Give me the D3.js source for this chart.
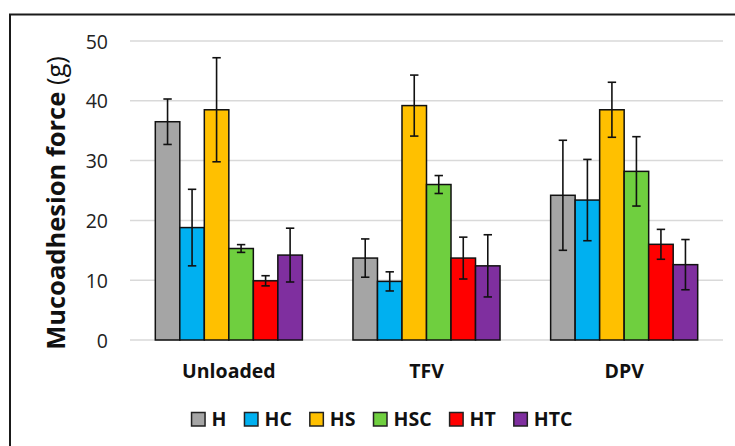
<!DOCTYPE html>
<html>
<head>
<meta charset="utf-8">
<script src="https://cdn.jsdelivr.net/npm/d3@7"></script>
<style>
  html, body { margin: 0; padding: 0; background: #fff; }
  svg { display: block; }
</style>
</head>
<body>
<svg id="chart" width="735" height="446"></svg>
<script>
const categories = ["Unloaded", "TFV", "DPV"];
const series = ["H", "HC", "HS", "HSC", "HT", "HTC"];
const colors = ["#A5A5A5", "#00B0F0", "#FFC000", "#6FCF3F", "#FF0000", "#7F2F9F"];
const valH   = [36.5, 13.7, 24.2];
const valHC  = [18.8, 9.8, 23.4];
const valHS  = [38.5, 39.2, 38.5];
const valHSC = [15.3, 26.0, 28.2];
const valHT  = [9.9, 13.7, 16.0];
const valHTC = [14.2, 12.4, 12.6];
const errH   = [3.8, 3.2, 9.2];
const errHC  = [6.4, 1.6, 6.8];
const errHS  = [8.7, 5.1, 4.6];
const errHSC = [0.65, 1.5, 5.8];
const errHT  = [0.85, 3.5, 2.5];
const errHTC = [4.5, 5.2, 4.2];
const yTicks = [0, 10, 20, 30, 40, 50];
const yTitle = "Mucoadhesion force";
const yUnit = "(g)";

const values = [valH, valHC, valHS, valHSC, valHT, valHTC];
const errors = [errH, errHC, errHS, errHSC, errHT, errHTC];

const svg = d3.select("#chart");
const plot = { left: 130, right: 723, top: 41, bottom: 340 };

// frame (chart area border, cropped at right/bottom)
svg.append("path")
  .attr("d", `M10,460 L10,14.5 L760,14.5`)
  .attr("fill", "none").attr("stroke", "#1a1a1a").attr("stroke-width", 2);

const x0 = d3.scaleBand().domain(categories).range([plot.left, plot.right])
  .paddingInner(0.256).paddingOuter(0.128);
const x1 = d3.scaleBand().domain(series).range([0, x0.bandwidth()]).padding(0);
const y = d3.scaleLinear().domain([0, 50]).range([plot.bottom, plot.top]);

// gridlines
svg.append("g").selectAll("line").data(yTicks).join("line")
  .attr("x1", plot.left).attr("x2", plot.right)
  .attr("y1", d => y(d)).attr("y2", d => y(d))
  .attr("stroke", "#D9D9D9").attr("stroke-width", 1.5);

// y tick labels
svg.append("g").selectAll("text").data(yTicks).join("text")
  .attr("x", 108).attr("y", d => y(d))
  .attr("text-anchor", "end").attr("dominant-baseline", "central")
  .attr("font-family", "Open Sans").attr("font-size", 19.5).attr("fill", "#222")
  .text(d => d);

// bars
const rows = [];
series.forEach((s, si) => categories.forEach((c, ci) => {
  rows.push({ s, c, si, v: values[si][ci], e: errors[si][ci] });
}));

const g = svg.append("g");
g.selectAll("rect").data(rows).join("rect")
  .attr("x", d => x0(d.c) + x1(d.s))
  .attr("y", d => y(d.v))
  .attr("width", x1.bandwidth())
  .attr("height", d => y(0) - y(d.v))
  .attr("fill", d => colors[d.si])
  .attr("stroke", "#111").attr("stroke-width", 1.5);

// error bars
const eg = svg.append("g").attr("stroke", "#111").attr("stroke-width", 1.6);
rows.forEach(d => {
  const cx = x0(d.c) + x1(d.s) + x1.bandwidth() / 2;
  eg.append("line").attr("x1", cx).attr("x2", cx)
    .attr("y1", y(d.v + d.e)).attr("y2", y(d.v - d.e));
  [d.v + d.e, d.v - d.e].forEach(v => {
    eg.append("line").attr("x1", cx - 4.2).attr("x2", cx + 4.2)
      .attr("y1", y(v)).attr("y2", y(v));
  });
});

// category labels
svg.append("g").selectAll("text").data(categories).join("text")
  .attr("x", d => x0(d) + x0.bandwidth() / 2).attr("y", 378)
  .attr("text-anchor", "middle")
  .attr("font-family", "Open Sans").attr("font-weight", "bold")
  .attr("font-size", 19.5).attr("fill", "#111")
  .text(d => d);

// y title
const yt = svg.append("text")
  .attr("transform", "translate(65,203) rotate(-90)")
  .attr("text-anchor", "middle")
  .attr("font-family", "Open Sans").attr("font-size", 25.5).attr("fill", "#111");
yt.append("tspan").attr("font-weight", "bold").text(yTitle + " ");
yt.append("tspan").attr("font-weight", "normal").text(yUnit);

// legend
const lg = svg.append("g");
let cursor = 0;
series.forEach((s, i) => {
  const it = lg.append("g");
  it.append("rect").attr("x", 0).attr("y", -13.5).attr("width", 13.5).attr("height", 13.5)
    .attr("fill", colors[i]).attr("stroke", "#222").attr("stroke-width", 1.5);
  const t = it.append("text").attr("x", 20).attr("y", 0)
    .attr("font-family", "Open Sans").attr("font-weight", "bold")
    .attr("font-size", 19.5).attr("fill", "#111").text(s);
  const w = 20 + t.node().getComputedTextLength();
  it.attr("transform", `translate(${cursor},0)`);
  cursor += w + 18;
});
const total = cursor - 18;
lg.attr("transform", `translate(${382 - total / 2},426)`);
</script>
</body>
</html>
